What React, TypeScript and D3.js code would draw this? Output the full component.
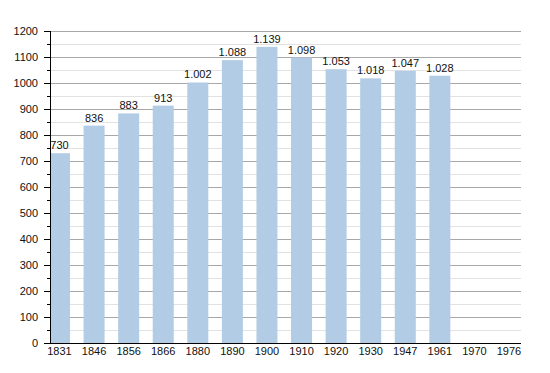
import * as d3 from 'd3';
import { useEffect, useRef } from 'react';

const years = ['1831', '1846', '1856', '1866', '1880', '1890', '1900', '1910', '1920', '1930', '1947', '1961', '1970', '1976'];
const population: (number | null)[] = [730, 836, 883, 913, 1002, 1088, 1139, 1098, 1053, 1018, 1047, 1028, null, null];
const yTicks = [0, 100, 200, 300, 400, 500, 600, 700, 800, 900, 1000, 1100, 1200];

const fmt = (v: number) => {
    const s = String(v);
    return s.length > 3 ? s.slice(0, s.length - 3) + '.' + s.slice(-3) : s;
};

const App = () => {
    const ref = useRef<SVGSVGElement>(null);

    useEffect(() => {
        const svg = d3.select(ref.current);
        svg.selectAll('*').remove();

        const left = 50, right = 521, top = 31, bottom = 343;
        const font = 'Liberation Sans, Arial, sans-serif';

        const x = d3.scalePoint<string>().domain(years).range([59.5, 509]);
        const y = d3.scaleLinear().domain([0, 1200]).range([bottom, top]);
        const barW = 21;

        svg.append('defs').append('clipPath').attr('id', 'plot')
            .append('rect').attr('x', left + 1).attr('y', 0).attr('width', right - left).attr('height', bottom);

        // minor gridlines
        const minor = d3.range(50, 1200, 100);
        svg.append('g').selectAll('line').data(minor).join('line')
            .attr('x1', left).attr('x2', right)
            .attr('y1', d => Math.round(y(d)) + 0.5).attr('y2', d => Math.round(y(d)) + 0.5)
            .attr('stroke', '#e2e2e2').attr('stroke-width', 1);

        // major gridlines
        svg.append('g').selectAll('line').data(yTicks.slice(1)).join('line')
            .attr('x1', left).attr('x2', right)
            .attr('y1', d => Math.round(y(d)) + 0.5).attr('y2', d => Math.round(y(d)) + 0.5)
            .attr('stroke', '#a8a8a8').attr('stroke-width', 1);

        const data = years.map((yr, i) => ({ yr, v: population[i] })).filter(d => d.v !== null) as { yr: string; v: number }[];

        svg.append('g').attr('clip-path', 'url(#plot)').selectAll('rect').data(data).join('rect')
            .attr('x', d => x(d.yr)! - barW / 2)
            .attr('width', barW)
            .attr('y', d => y(d.v))
            .attr('height', d => bottom - y(d.v))
            .attr('fill', '#b2cce6');

        svg.append('g').selectAll('text').data(data).join('text')
            .attr('x', d => x(d.yr)!)
            .attr('y', d => y(d.v) - 4)
            .attr('text-anchor', 'middle')
            .attr('font-family', font).attr('font-size', 11).attr('fill', '#111')
            .text(d => fmt(d.v));

        // y axis
        const yAxis = svg.append('g');
        yAxis.append('line').attr('x1', left + 0.5).attr('x2', left + 0.5).attr('y1', top).attr('y2', bottom)
            .attr('stroke', '#000');
        yAxis.selectAll('line.minor').data(minor).join('line').attr('class', 'minor')
            .attr('x1', left - 3).attr('x2', left)
            .attr('y1', d => Math.round(y(d)) + 0.5).attr('y2', d => Math.round(y(d)) + 0.5)
            .attr('stroke', '#000');
        yAxis.selectAll('line.major').data(yTicks).join('line').attr('class', 'major')
            .attr('x1', left - 6).attr('x2', left)
            .attr('y1', d => Math.round(y(d)) + 0.5).attr('y2', d => Math.round(y(d)) + 0.5)
            .attr('stroke', '#000');
        yAxis.selectAll('text').data(yTicks).join('text')
            .attr('x', 38).attr('y', d => y(d) + 4)
            .attr('text-anchor', 'end')
            .attr('font-family', font).attr('font-size', 11).attr('fill', '#111')
            .text(d => d);

        // x axis
        svg.append('line').attr('x1', left).attr('x2', right)
            .attr('y1', bottom + 0.5).attr('y2', bottom + 0.5).attr('stroke', '#000');
        svg.append('g').selectAll('text').data(years).join('text')
            .attr('x', d => x(d)!).attr('y', bottom + 12)
            .attr('text-anchor', 'middle')
            .attr('font-family', font).attr('font-size', 11).attr('fill', '#111')
            .text(d => d);
    }, []);

    return (
        <div style={{ margin: -8 }}>
            <svg ref={ref} width={550} height={373} style={{ display: 'block', background: '#fff' }} />
        </div>
    );
};

export default App;
